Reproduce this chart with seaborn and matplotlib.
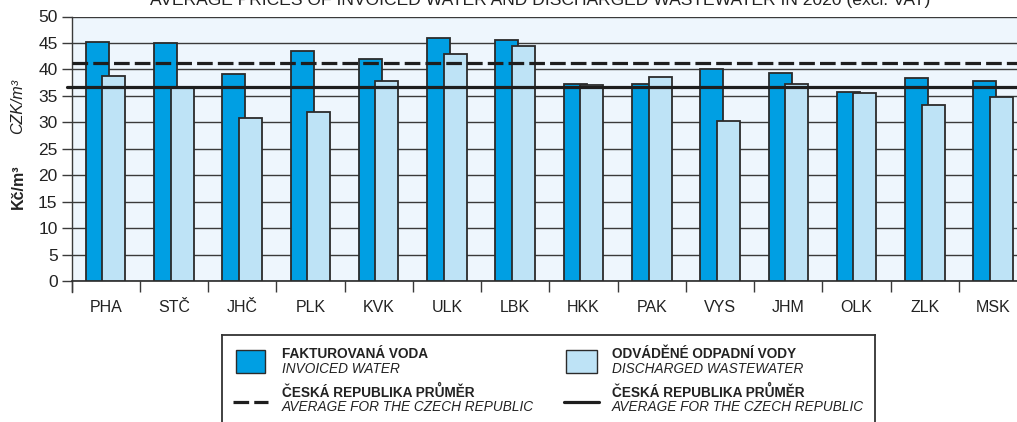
import numpy as np
import pandas as pd
import matplotlib.pyplot as plt
import seaborn as sns
from matplotlib.patches import Rectangle

regions = ["PHA", "STČ", "JHČ", "PLK", "KVK", "ULK", "LBK", "HKK", "PAK", "VYS", "JHM", "OLK", "ZLK", "MSK"]
invoiced = [45.2, 45.0, 39.2, 43.5, 41.9, 45.9, 45.5, 37.3, 37.3, 40.1, 39.4, 35.8, 38.3, 37.9]
discharged = [38.8, 36.6, 30.9, 31.9, 37.8, 42.9, 44.4, 37.1, 38.6, 30.3, 37.2, 35.6, 33.3, 34.7]
avg_invoiced = 41.3
avg_discharged = 36.7

dark = "#009FE3"
light = "#BEE3F6"
edge = "#2b2b2b"

sns.set_style("white")
plt.rcParams["font.family"] = ["Liberation Sans", "DejaVu Sans"]
narrow = ["Liberation Sans Narrow", "Liberation Sans", "DejaVu Sans"]

df = pd.DataFrame({
    "region": regions * 2,
    "price": invoiced + discharged,
    "kind": ["invoiced"] * len(regions) + ["discharged"] * len(regions),
})

fig = plt.figure(figsize=(10.17, 4.22), dpi=100)
ax = fig.add_axes([71.5 / 1017, 1 - 281 / 422, 1 - 71.5 / 1017, (281 - 16.5) / 422])
ax.set_facecolor("#EEF6FD")

sns.barplot(data=df, x="region", y="price", hue="kind", order=regions,
            palette={"invoiced": dark, "discharged": light},
            width=0.484, gap=-0.39, edgecolor=edge, linewidth=1.3,
            saturation=1, legend=False, ax=ax, zorder=3)

ax.set_ylim(0, 50)
ax.set_xlim(-0.5, 13.35)
ax.set_yticks(range(0, 51, 5))
ax.yaxis.grid(True, color="#3a3a3a", linewidth=1.0, zorder=1)
ax.set_axisbelow(True)

ax.axhline(avg_invoiced, xmin=0.0, xmax=1, color="#1e1e1e", linewidth=2.3,
           dashes=(4.9, 1.6), zorder=5)
ax.axhline(avg_discharged, xmin=-0.005, xmax=1, color="#1e1e1e", linewidth=2.3,
           zorder=5, clip_on=False)

for s in ["top", "right"]:
    ax.spines[s].set_visible(False)
ax.spines["left"].set_color("#3a3a3a")
ax.spines["left"].set_linewidth(1.0)
ax.spines["left"].set_bounds(-2.1, 50)
ax.spines["bottom"].set_color("#2a2a2a")
ax.spines["bottom"].set_linewidth(1.2)

ax.tick_params(axis="y", length=7, width=1.0, color="#3a3a3a", labelsize=12.5,
               pad=3, labelcolor="#222222", left=True)
ax.set_xticks(np.arange(len(regions)))
ax.set_xticklabels(regions)
ax.set_xticks(np.arange(len(regions)) - 0.5, minor=True)
ax.tick_params(axis="x", which="major", length=0, pad=14, labelsize=11.5, labelcolor="#222222")
ax.tick_params(axis="x", which="minor", length=8, width=1.0, color="#3a3a3a", bottom=True)
ax.set_xlabel("")
ax.set_ylabel("")

fig.text(540 / 1017, 1 - 5 / 422, "AVERAGE PRICES OF INVOICED WATER AND DISCHARGED WASTEWATER IN 2020 (excl. VAT)",
         ha="center", va="baseline", fontsize=12.6, color="#222222")
fig.text(18 / 1017, 1 - 187 / 422, "Kč/m³", rotation=90, ha="center", va="center",
         fontsize=11.5, fontweight="bold", color="#222222")
fig.text(18 / 1017, 1 - 106 / 422, "CZK/m³", rotation=90, ha="center", va="center",
         fontsize=11.5, fontstyle="italic", color="#222222")

# legend box drawn in pixel-like units
lg = fig.add_axes([222 / 1017, -20 / 422, (875 - 222) / 1017, (422 - 335 + 20) / 422])
lg.set_xlim(222, 875)
lg.set_ylim(442, 335)
lg.set_facecolor("white")
for s in lg.spines.values():
    s.set_color("#333333")
    s.set_linewidth(1.3)
lg.set_xticks([])
lg.set_yticks([])

lg.add_patch(Rectangle((236, 350), 29, 23, facecolor=dark, edgecolor=edge, linewidth=1.0))
lg.add_patch(Rectangle((566, 350), 31, 23, facecolor=light, edgecolor=edge, linewidth=1.0))
lg.plot([233, 268], [402, 402], color="#1e1e1e", linewidth=2.3, dashes=(4.9, 1.6))
lg.plot([564, 599], [402, 402], color="#1e1e1e", linewidth=2.3)

entries = [
    (282, 354, "FAKTUROVANÁ VODA", "INVOICED WATER"),
    (612, 354, "ODVÁDĚNÉ ODPADNÍ VODY", "DISCHARGED WASTEWATER"),
    (282, 392, "ČESKÁ REPUBLIKA PRŮMĚR", "AVERAGE FOR THE CZECH REPUBLIC"),
    (612, 392, "ČESKÁ REPUBLIKA PRŮMĚR", "AVERAGE FOR THE CZECH REPUBLIC"),
]
for x, y, cz, en in entries:
    lg.text(x, y, cz, ha="left", va="center", fontsize=9.8, fontweight="bold",
            family=narrow, color="#222222")
    lg.text(x, y + 15.5, en, ha="left", va="center", fontsize=9.8, fontstyle="italic",
            family=narrow, color="#222222")

fig.savefig("out.png", dpi=100)
